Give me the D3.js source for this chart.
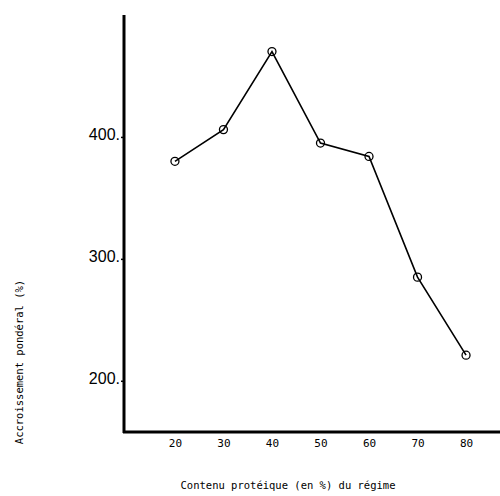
<!DOCTYPE html>
<html><head><meta charset="utf-8">
<script src="https://cdn.jsdelivr.net/npm/d3@7"></script>
<style>body{margin:0;background:#fff}</style>
</head><body>
<svg id="chart" width="500" height="496"></svg>
<script>
// protein content (%) vs weight gain (%)
const proteine = [20, 30, 40, 50, 60, 70, 80];
const accroissement = [380, 406, 470, 395, 384, 285, 221];
const yTicks = [200, 300, 400];

const svg = d3.select('#chart');
const x = d3.scaleLinear().domain([9.5, 87]).range([124, 500]);
const y = d3.scaleLinear().domain([158, 500]).range([432, 15]);

// axes
svg.append('g').attr('transform', 'translate(124,0)')
	.call(d3.axisLeft(y).tickValues(yTicks).tickSize(3).tickFormat(d => d + '.'))
	.call(g => g.select('.domain').remove())
	.call(g => g.selectAll('text').attr('font-family', 'Liberation Sans, Arial').attr('font-size', 16).attr('dy', '0.15em').attr('dx', 2))
	.call(g => g.selectAll('line').attr('stroke-width', 1.5));

svg.append('g').attr('transform', 'translate(0,432)')
	.call(d3.axisBottom(x).tickValues(proteine).tickSize(0))
	.call(g => g.select('.domain').remove())
	.call(g => g.selectAll('text').attr('font-family', 'DejaVu Sans Mono, monospace').attr('font-size', 11).attr('dy', '1.1em'));

svg.append('line').attr('x1', 124).attr('x2', 124).attr('y1', 15).attr('y2', 433)
	.attr('stroke', '#000').attr('stroke-width', 3);
svg.append('line').attr('x1', 123).attr('x2', 500).attr('y1', 432).attr('y2', 432)
	.attr('stroke', '#000').attr('stroke-width', 3);

const pts = proteine.map((p, i) => [p, accroissement[i]]);
svg.append('path').datum(pts)
	.attr('d', d3.line().x(d => x(d[0])).y(d => y(d[1])))
	.attr('fill', 'none').attr('stroke', '#000').attr('stroke-width', 1.6);
svg.selectAll('circle.pt').data(pts).join('circle')
	.attr('cx', d => x(d[0])).attr('cy', d => y(d[1])).attr('r', 4)
	.attr('fill', 'none').attr('stroke', '#000').attr('stroke-width', 1.3);

// labels
svg.append('text').attr('transform', 'translate(23,362) rotate(-90)')
	.attr('text-anchor', 'middle')
	.attr('font-family', 'DejaVu Sans Mono, monospace').attr('font-size', 10.5)
	.text('Accroissement pondéral (%)');
svg.append('text').attr('x', 288).attr('y', 489).attr('text-anchor', 'middle')
	.attr('font-family', 'DejaVu Sans Mono, monospace').attr('font-size', 10.5)
	.text('Contenu protéique (en %) du régime');
</script>
</body></html>
